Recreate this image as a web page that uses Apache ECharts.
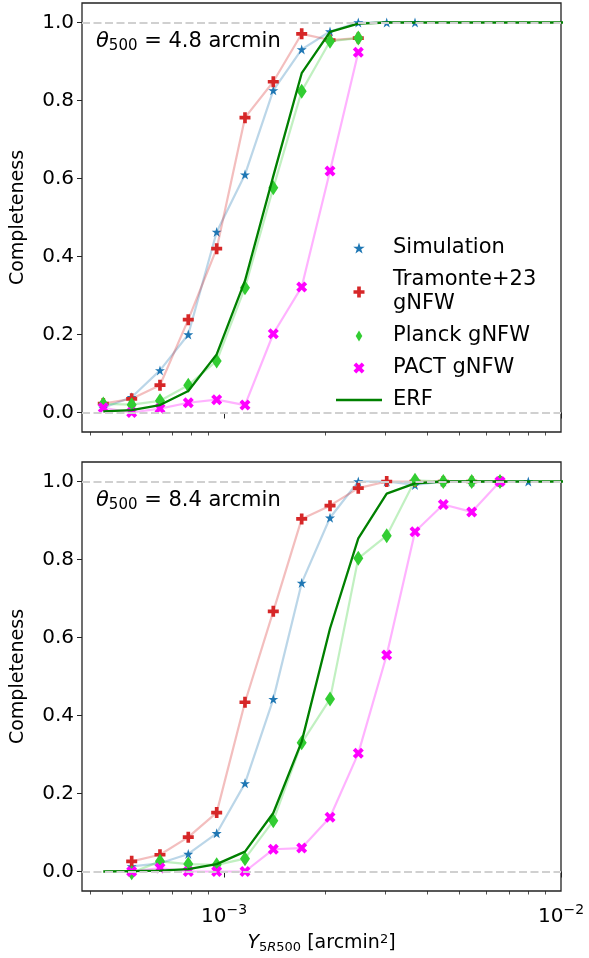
<!DOCTYPE html>
<html>
<head>
<meta charset="utf-8">
<script src="https://cdn.jsdelivr.net/npm/echarts@6/dist/echarts.min.js"></script>
<style>
html,body{margin:0;padding:0;background:#fff;}
#c{width:589px;height:958px;}
</style>
</head>
<body>
<div id="c"></div>
<script>
// ---------- data ----------
const xBins = [4.383e-4, 5.322e-4, 6.457e-4, 7.834e-4, 9.512e-4, 1.1542e-3, 1.4004e-3, 1.7004e-3,
  2.0634e-3, 2.5032e-3, 3.0397e-3, 3.6878e-3, 4.4745e-3, 5.433e-3, 6.592e-3, 7.998e-3, 9.71e-3, 1.178e-2];

// Panel 1: theta500 = 4.8 arcmin
const top_sim      = [0.012, 0.039, 0.108, 0.20, 0.463, 0.61, 0.826, 0.931, 0.977, 1.0, 1.0, 1.0];
const top_tramonte = [0.023, 0.035, 0.07, 0.238, 0.42, 0.756, 0.848, 0.971, 0.955, 0.96];
const top_planck   = [0.022, 0.02, 0.03, 0.07, 0.132, 0.32, 0.576, 0.824, 0.952, 0.96];
const top_pact     = [0.012, 0.0, 0.01, 0.025, 0.033, 0.019, 0.202, 0.322, 0.619, 0.924];
const top_erf      = [0.003, 0.006, 0.019, 0.055, 0.149, 0.338, 0.606, 0.87, 0.976, 0.997, 1.0, 1.0, 1.0, 1.0, 1.0, 1.0, 1.0, 1.0];

// Panel 2: theta500 = 8.4 arcmin (markers start at the 2nd bin)
const bot_sim      = [null, 0.013, 0.021, 0.045, 0.098, 0.226, 0.442, 0.74, 0.907, 1.0, 1.0, 0.991, 1.0, 1.0, 1.0, 1.0];
const bot_tramonte = [null, 0.026, 0.043, 0.088, 0.151, 0.434, 0.667, 0.904, 0.938, 0.983, 1.0, 1.0, 1.0, 1.0, 1.0];
const bot_planck   = [null, -0.003, 0.026, 0.019, 0.017, 0.033, 0.13, 0.33, 0.442, 0.803, 0.861, 1.003, 1.0, 1.0, 1.0];
const bot_pact     = [null, 0.0, 0.009, 0.0, 0.0, 0.0, 0.057, 0.06, 0.139, 0.303, 0.555, 0.871, 0.941, 0.922, 1.0];
const bot_erf      = [0.0, 0.001, 0.002, 0.006, 0.019, 0.051, 0.15, 0.333, 0.623, 0.854, 0.969, 0.995, 1.0, 1.0, 1.0, 1.0, 1.0, 1.0];

const yTicks = [0, 0.2, 0.4, 0.6, 0.8, 1.0];
const xMajorTicks = [1e-3, 1e-2];
const xMinorTicks = [4e-4, 5e-4, 6e-4, 7e-4, 8e-4, 9e-4, 2e-3, 3e-3, 4e-3, 5e-3, 6e-3, 7e-3, 8e-3, 9e-3];
const refLines = [0, 1];
const panelLabels = ['4.8', '8.4'];
const names = ['Simulation', 'Tramonte+23\ngNFW', 'Planck gNFW', 'PACT gNFW', 'ERF'];

// ---------- styling ----------
const FONT = 'DejaVu Sans';
const STAR = 'path://M0,-1 L0.2245,-0.309 L0.951,-0.309 L0.363,0.118 L0.588,0.809 L0,0.382 L-0.588,0.809 L-0.363,0.118 L-0.951,-0.309 L-0.2245,-0.309 Z';
const PLUS = 'path://M-1,-0.333 L-0.333,-0.333 L-0.333,-1 L0.333,-1 L0.333,-0.333 L1,-0.333 L1,0.333 L0.333,0.333 L0.333,1 L-0.333,1 L-0.333,0.333 L-1,0.333 Z';
const DIAM = 'path://M0,-1 L0.6,0 L0,1 L-0.6,0 Z';
const XMRK = 'path://M-0.4714,-0.9428 L0,-0.4714 L0.4714,-0.9428 L0.9428,-0.4714 L0.4714,0 L0.9428,0.4714 L0.4714,0.9428 L0,0.4714 L-0.4714,0.9428 L-0.9428,0.4714 L-0.4714,0 L-0.9428,-0.4714 Z';
const LINEICON = 'path://M0,0 L46,0 L46,2.4 L0,2.4 Z';

const styles = [
  {color: '#1f77b4', line: 'rgba(31,119,180,0.3)', sym: STAR, size: [10, 10]},
  {color: '#d62728', line: 'rgba(214,39,40,0.3)', sym: PLUS, size: [11, 11]},
  {color: '#32cd32', line: 'rgba(50,205,50,0.3)', sym: DIAM, size: [10, 15]},
  {color: '#ff00ff', line: 'rgba(255,0,255,0.3)', sym: XMRK, size: [11, 11]}
];

function pairs(vals) {
  const out = [];
  vals.forEach((v, i) => { if (v !== null && v !== undefined) out.push([xBins[i], v]); });
  return out;
}

const grids = [
  {left: 82, top: 3, width: 479, height: 429},
  {left: 82, top: 462, width: 479, height: 429}
];

const xAxes = [], yAxes = [];
grids.forEach((g, gi) => {
  xAxes.push({
    type: 'log', logBase: 10, gridIndex: gi, min: 3.79e-4, max: 1e-2, position: 'bottom',
    axisLine: {show: false},
    splitLine: {show: false},
    axisTick: {show: true, customValues: xMajorTicks, length: 6, lineStyle: {color: '#222', width: 1}},
    axisLabel: {
      show: gi === 1, customValues: xMajorTicks, margin: 8, color: '#000',
      formatter: v => '{b|10}{s|' + (Math.round(Math.log10(v)) < 0 ? '\u2212' : '') + Math.abs(Math.round(Math.log10(v))) + '}',
      rich: {
        b: {fontFamily: FONT, fontSize: 20, color: '#000', padding: [8, 0, 0, 0]},
        s: {fontFamily: FONT, fontSize: 14, color: '#000', padding: [0, 0, 6, 0]}
      }
    },
    name: gi === 1 ? '{i|Y}{s|5}{si|R}{s|500}{n| [arcmin}{p|2}{n|]}' : '',
    nameLocation: 'middle', nameGap: 42,
    nameTextStyle: {
      rich: {
        i: {fontFamily: FONT, fontSize: 19, fontStyle: 'italic', color: '#000'},
        si: {fontFamily: FONT, fontSize: 13, fontStyle: 'italic', color: '#000', padding: [8, 0, 0, 0]},
        s: {fontFamily: FONT, fontSize: 13, color: '#000', padding: [8, 0, 0, 0]},
        n: {fontFamily: FONT, fontSize: 19, color: '#000'},
        p: {fontFamily: FONT, fontSize: 13, color: '#000', padding: [0, 0, 8, 0]}
      }
    }
  });
  yAxes.push({
    type: 'value', gridIndex: gi, min: -0.05, max: 1.05,
    axisLine: {show: false},
    splitLine: {show: false},
    axisTick: {show: true, customValues: yTicks, length: 5, lineStyle: {color: '#222', width: 1}},
    axisLabel: {customValues: yTicks, margin: 8, color: '#000', fontFamily: FONT, fontSize: 20,
      formatter: v => v.toFixed(1)},
    name: 'Completeness', nameLocation: 'middle', nameGap: 54,
    nameTextStyle: {fontFamily: FONT, fontSize: 19, color: '#000'}
  });
});
// minor tick axes (bottom edge of each panel)
grids.forEach((g, gi) => {
  xAxes.push({
    type: 'log', logBase: 10, gridIndex: gi, min: 3.79e-4, max: 1e-2, position: 'bottom',
    axisLine: {show: false}, splitLine: {show: false},
    axisTick: {show: true, customValues: xMinorTicks, length: 3.5, lineStyle: {color: '#222', width: 0.8}},
    axisLabel: {show: false}
  });
});

const panelData = [
  [top_sim, top_tramonte, top_planck, top_pact, top_erf],
  [bot_sim, bot_tramonte, bot_planck, bot_pact, bot_erf]
];

const series = [];
panelData.forEach((pd, gi) => {
  for (let k = 0; k < 4; k++) {
    const st = styles[k];
    series.push({
      name: names[k], type: 'line', xAxisIndex: gi, yAxisIndex: gi,
      data: pairs(pd[k]),
      symbol: st.sym, symbolSize: st.size, showAllSymbol: true,
      itemStyle: {color: st.color, borderWidth: 0},
      lineStyle: {color: st.line, width: 2.2},
      z: 3 + k, animation: false, silent: true
    });
  }
  series.push({
    name: names[4], type: 'line', xAxisIndex: gi, yAxisIndex: gi,
    data: pairs(pd[4]),
    symbol: 'none',
    itemStyle: {color: '#008000'},
    lineStyle: {color: '#008000', width: 2.3},
    z: 8, animation: false, silent: true,
    markLine: {
      silent: true, symbol: 'none', animation: false, z: 20,
      label: {show: false},
      lineStyle: {color: '#d0d0d0', type: [8, 3.5], width: 2},
      emphasis: {disabled: true},
      data: refLines.map(v => ({yAxis: v}))
    }
  });
});

const legendIcons = [STAR, PLUS, DIAM, XMRK, LINEICON];

const option = {
  backgroundColor: '#fff',
  animation: false,
  grid: grids.map(g => Object.assign({show: true, borderColor: '#222', borderWidth: 1.3, backgroundColor: 'transparent'}, g)),
  xAxis: xAxes,
  yAxis: yAxes,
  legend: {
    orient: 'vertical', left: 336, top: 236, padding: 0,
    itemWidth: 46, itemHeight: 11, itemGap: 8,
    selectedMode: false,
    data: names.map((n, i) => ({name: n, icon: legendIcons[i]})),
    textStyle: {fontFamily: FONT, fontSize: 21, color: '#000', lineHeight: 24, padding: [0, 0, 0, 6]}
  },
  graphic: panelLabels.map((lab, gi) => ({
    type: 'text', left: 96, top: grids[gi].top + 28,
    style: {
      text: '{t|\u03b8}{s|500}{n| = ' + lab + ' arcmin}',
      rich: {
        t: {fontFamily: FONT, fontSize: 21, fontStyle: 'italic', fill: '#000', lineHeight: 26},
        s: {fontFamily: FONT, fontSize: 15, fill: '#000', padding: [10, 0, 0, 0]},
        n: {fontFamily: FONT, fontSize: 21, fill: '#000', lineHeight: 26}
      }
    }
  })),
  series: series
};

const chart = echarts.init(document.getElementById('c'), null, {renderer: 'canvas'});
chart.setOption(option);
</script>
</body>
</html>
